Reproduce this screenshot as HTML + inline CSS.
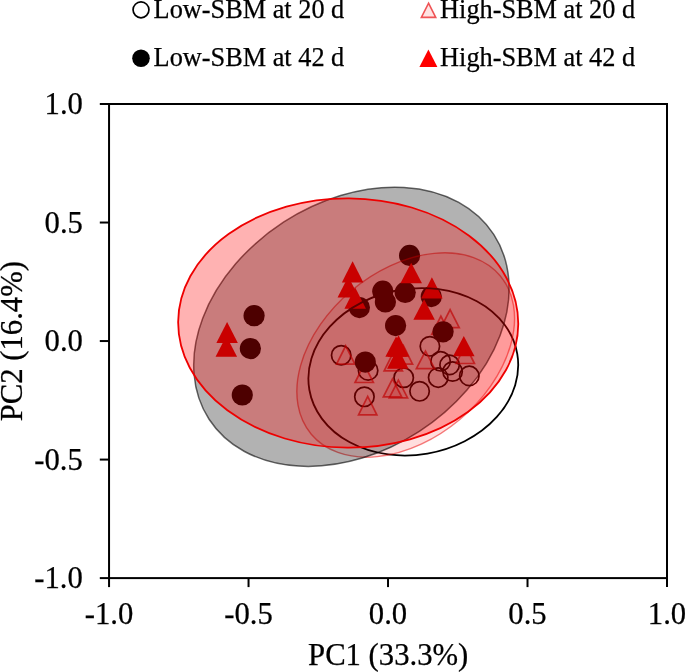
<!DOCTYPE html>
<html><head><meta charset="utf-8"><title>PCA</title>
<style>html,body{margin:0;padding:0;background:#fff}svg{display:block}text{font-family:"Liberation Serif","Times New Roman",serif;fill:#000;stroke:#000;stroke-width:0.25px}</style></head><body>
<svg width="685" height="672" viewBox="0 0 685 672">
<rect width="685" height="672" fill="#fff"/>
<g fill="none" stroke="#000" stroke-width="1.7">
<circle cx="341.2" cy="355.3" r="9.7"/>
<circle cx="368.1" cy="370.4" r="9.7"/>
<circle cx="403.7" cy="377.7" r="9.7"/>
<circle cx="364.4" cy="396.8" r="9.7"/>
<circle cx="429.9" cy="346.3" r="9.7"/>
<circle cx="440.6" cy="361.3" r="9.7"/>
<circle cx="449.6" cy="364.9" r="9.7"/>
<circle cx="452.6" cy="371.5" r="9.7"/>
<circle cx="469.3" cy="375.9" r="9.7"/>
<circle cx="438.2" cy="377.6" r="9.7"/>
<circle cx="419.6" cy="391.3" r="9.7"/>
</g>
<g fill="rgba(255,0,0,0.1)" stroke="rgba(230,0,5,0.66)" stroke-width="1.7" stroke-linejoin="miter">
<path d="M345.7 345.76L354.88 364.2L336.52 364.2Z"/>
<path d="M364.2 364.15L373.37 382.5L355.03 382.5Z"/>
<path d="M393.3 352.46L402.48 370.9L384.12 370.9Z"/>
<path d="M403.4 345.75L412.57 364.1L394.23 364.1Z"/>
<path d="M392.5 378.92L401.66 396.9L383.34 396.9Z"/>
<path d="M398.4 380.11L407.56 397.9L389.24 397.9Z"/>
<path d="M367.7 396.46L376.88 414.9L358.52 414.9Z"/>
<path d="M450.1 309.54L459.27 327.7L440.93 327.7Z"/>
<path d="M440.9 316.14L450.07 334.3L431.73 334.3Z"/>
<path d="M465.3 345.15L474.47 363.5L456.13 363.5Z"/>
<path d="M425.5 351.09L434.65 368.7L416.35 368.7Z"/>
</g>
<g fill="#000">
<circle cx="359.4" cy="307.6" r="10.6"/>
<circle cx="382.8" cy="291.2" r="10.6"/>
<circle cx="385.4" cy="301.9" r="10.6"/>
<circle cx="405.2" cy="292.4" r="10.6"/>
<circle cx="409.6" cy="255.4" r="10.6"/>
<circle cx="395.6" cy="325.6" r="10.6"/>
<circle cx="431.3" cy="296.6" r="10.6"/>
<circle cx="365.3" cy="362.1" r="10.6"/>
<circle cx="443.1" cy="331.8" r="10.6"/>
<circle cx="254.1" cy="315.7" r="10.6"/>
<circle cx="250.4" cy="348.6" r="10.6"/>
<circle cx="242.3" cy="395" r="10.6"/>
</g>
<g fill="#f00">
<path d="M352.6 261.3L363.35 282.4L341.85 282.4Z"/>
<path d="M348.3 276.4L359.05 297.5L337.55 297.5Z"/>
<path d="M355.2 287.6L365.95 308.7L344.45 308.7Z"/>
<path d="M411.2 262.7L421.95 283.2L400.45 283.2Z"/>
<path d="M431.9 277.3L442.65 298.5L421.15 298.5Z"/>
<path d="M424.1 299.3L434.85 319.8L413.35 319.8Z"/>
<path d="M396.1 336.6L406.85 356.7L385.35 356.7Z"/>
<path d="M398.5 335.3L409.25 356.7L387.75 356.7Z"/>
<path d="M397.8 347.7L408.55 368.8L387.05 368.8Z"/>
<path d="M463.8 335.9L474.55 356.3L453.05 356.3Z"/>
<path d="M227.1 322L237.85 342.9L216.35 342.9Z"/>
<path d="M226.3 335.9L237.05 356.8L215.55 356.8Z"/>
</g>
<ellipse cx="413.3" cy="371.8" rx="105.5" ry="83" transform="rotate(-9.8 413.3 371.8)" fill="none" stroke="#000" stroke-width="1.8"/>
<ellipse cx="405.7" cy="355" rx="123.3" ry="84.2" transform="rotate(-40 405.7 355)" fill="rgba(255,0,0,0.13)" stroke="rgba(235,0,0,0.5)" stroke-width="1.4"/>
<ellipse cx="351.4" cy="326.8" rx="169.7" ry="124.7" transform="rotate(-33 351.4 326.8)" fill="rgba(0,0,0,0.3)" stroke="rgba(0,0,0,0.6)" stroke-width="1.5"/>
<ellipse cx="348.2" cy="323" rx="170.05" ry="124.7" transform="rotate(0.4 348.2 323)" fill="rgba(255,0,0,0.3)" stroke="#ee0000" stroke-width="1.8"/>
<g stroke="#000" stroke-width="2" fill="none">
<rect x="109.05" y="104" width="557.95" height="474.1"/>
<path d="M99.8 104H109.05"/>
<path d="M109.05 578.1V587.1"/>
<path d="M99.8 222.53H109.05"/>
<path d="M248.54 578.1V587.1"/>
<path d="M99.8 341.05H109.05"/>
<path d="M388.03 578.1V587.1"/>
<path d="M99.8 459.58H109.05"/>
<path d="M527.51 578.1V587.1"/>
<path d="M99.8 578.1H109.05"/>
<path d="M667 578.1V587.1"/>
</g>
<g font-size="30.7px">
<text x="82.9" y="114.2" text-anchor="end">1.0</text>
<text x="82.9" y="232.72" text-anchor="end">0.5</text>
<text x="82.9" y="351.25" text-anchor="end">0.0</text>
<text x="82.9" y="469.78" text-anchor="end">-0.5</text>
<text x="82.9" y="588.3" text-anchor="end">-1.0</text>
<text x="109.05" y="623.8" text-anchor="middle">-1.0</text>
<text x="248.54" y="623.8" text-anchor="middle">-0.5</text>
<text x="388.03" y="623.8" text-anchor="middle">0.0</text>
<text x="527.51" y="623.8" text-anchor="middle">0.5</text>
<text x="667" y="623.8" text-anchor="middle">1.0</text>
<text x="388.2" y="665.3" text-anchor="middle">PC1 (33.3%)</text>
<text transform="translate(22.3 341.2) rotate(-90)" text-anchor="middle">PC2 (16.4%)</text>
</g>
<g font-size="26.3px">
<text x="153.6" y="18.45">Low-SBM at 20 d</text>
<text x="153.6" y="66.35">Low-SBM at 42 d</text>
<text x="440.1" y="18.45">High-SBM at 20 d</text>
<text x="440.1" y="66.35">High-SBM at 42 d</text>
</g>
<circle cx="141" cy="9.85" r="7.95" fill="#fff" stroke="#000" stroke-width="1.7"/>
<circle cx="141" cy="58.2" r="8.8" fill="#000"/>
<path d="M428.55 3.17L435.75 17.35L421.35 17.35Z" fill="rgba(255,0,0,0.11)" stroke="rgba(230,0,5,0.66)" stroke-width="1.6"/>
<path d="M428.4 49.6L437.4 66.9L419.4 66.9Z" fill="#f00"/>
</svg></body></html>
